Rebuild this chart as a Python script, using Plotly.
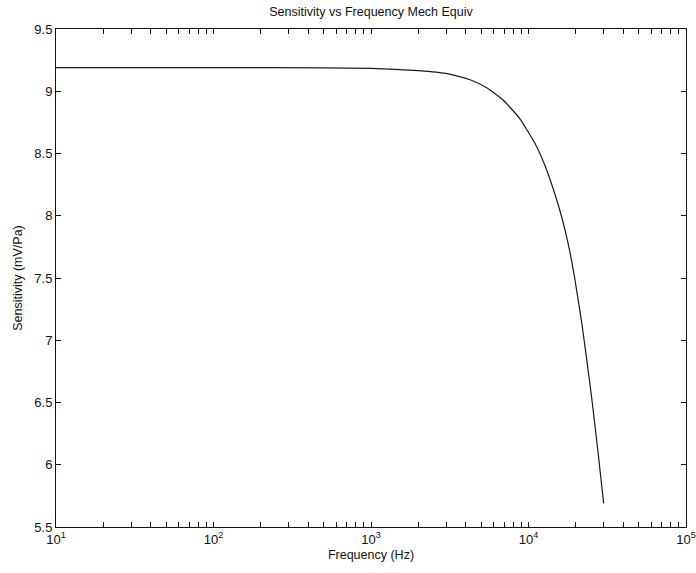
import plotly.graph_objects as go

# Frequency response of the mechanical-equivalent model
freq_hz = [10, 100, 500, 1000, 2000, 2600, 3300, 4300, 5400, 6900, 8800, 11000,
           12700, 14700, 16250, 17900, 19700, 21800, 23400, 25200, 27700, 30000]
sensitivity_mv_pa = [9.19, 9.19, 9.188, 9.183, 9.166, 9.153, 9.132, 9.09, 9.03,
                     8.93, 8.78, 8.58, 8.405, 8.175, 7.99, 7.77, 7.49, 7.135,
                     6.85, 6.535, 6.09, 5.69]

decades = [10, 100, 1000, 10000, 100000]
decade_labels = ["10<sup>1</sup>", "10<sup>2</sup>", "10<sup>3</sup>",
                 "10<sup>4</sup>", "10<sup>5</sup>"]
y_tick_vals = [5.5, 6, 6.5, 7, 7.5, 8, 8.5, 9, 9.5]
y_tick_text = ["5.5", "6", "6.5", "7", "7.5", "8", "8.5", "9", "9.5"]

# unlabelled log ticks at 2..9 times each decade
minor_vals = [d * m for d in decades[:-1] for m in range(2, 10)]

FONT = "Liberation Sans, Arial, sans-serif"
INK = "#111111"

fig = go.Figure()
fig.add_trace(go.Scatter(
    x=freq_hz, y=sensitivity_mv_pa, mode="lines",
    line=dict(color="#1a1a1a", width=1.2, shape="spline", smoothing=0.5),
    showlegend=False, hoverinfo="x+y",
))

axis_common = dict(
    showgrid=False, zeroline=False, showline=True, linecolor=INK, linewidth=1,
    mirror="ticks", ticks="inside", ticklen=5, tickcolor=INK, tickwidth=1,
    tickfont=dict(family=FONT, size=13, color=INK), automargin=False,
)

fig.update_xaxes(
    type="log", range=[1, 5], tickvals=decades, ticktext=decade_labels,
    minor=dict(tickvals=minor_vals, ticks="inside", ticklen=5,
               tickcolor=INK, tickwidth=1, showgrid=False),
    title=dict(text="Frequency (Hz)", font=dict(family=FONT, size=12.5, color=INK),
               standoff=4),
    **axis_common,
)
fig.update_yaxes(
    range=[5.5, 9.5], tickvals=y_tick_vals, ticktext=y_tick_text,
    title=dict(text="Sensitivity (mV/Pa)", font=dict(family=FONT, size=12.5, color=INK),
               standoff=8),
    **axis_common,
)

fig.update_layout(
    width=696, height=573,
    margin=dict(l=56, r=10, t=29, b=46),
    paper_bgcolor="white", plot_bgcolor="white",
    title=dict(text="Sensitivity vs Frequency Mech Equiv",
               font=dict(family=FONT, size=12.5, color=INK),
               x=0.5, xref="paper", y=1 - 12 / 573, yref="container",
               xanchor="center", yanchor="middle"),
)

fig.write_html("out.html")
